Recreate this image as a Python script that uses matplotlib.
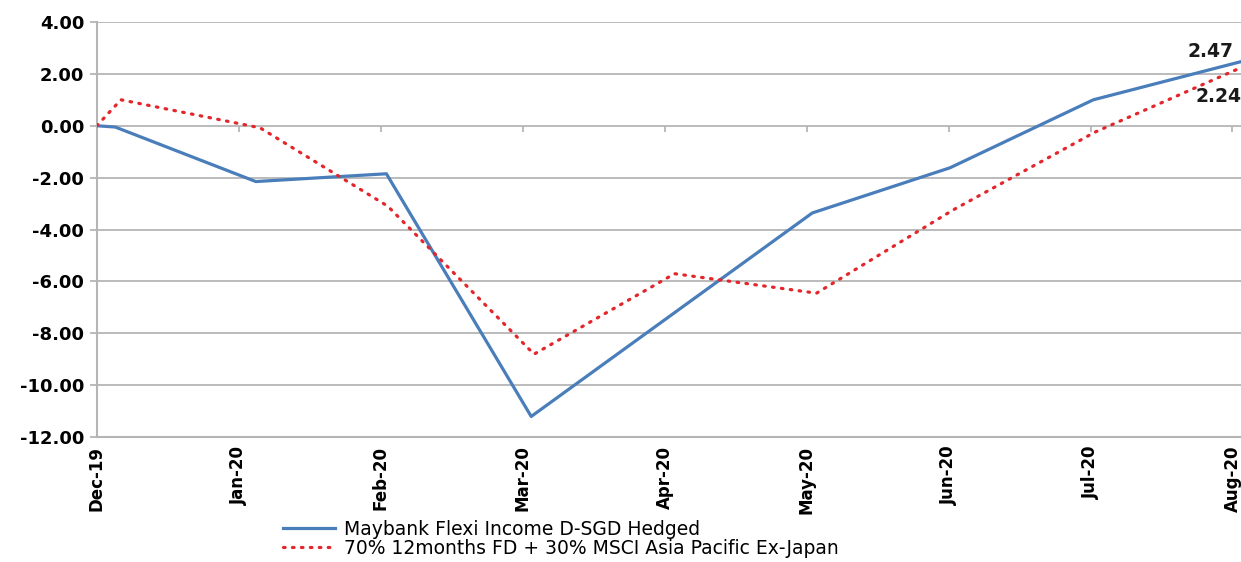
""" Fund vs benchmark cumulative return since Dec-19. """
import matplotlib
matplotlib.use("Agg")
import matplotlib.pyplot as plt

months = ["Dec-19", "Jan-20", "Feb-20", "Mar-20", "Apr-20",
          "May-20", "Jun-20", "Jul-20", "Aug-20"]

# x in months since Dec-19 (points sit slightly off the month ticks)
fund_x = [0.0, 0.13, 1.12, 2.04, 3.06, 5.04, 6.01, 7.02, 8.06]
fund_y = [0.00, -0.05, -2.15, -1.85, -11.20, -3.36, -1.62, 1.00, 2.47]

bench_x = [0.0, 0.17, 1.15, 2.05, 3.08, 4.07, 5.07, 6.03, 7.03, 8.06]
bench_y = [0.00, 1.00, -0.08, -3.10, -8.80, -5.70, -6.45, -3.25, -0.25, 2.24]

fund_name = "Maybank Flexi Income D-SGD Hedged"
bench_name = "70% 12months FD + 30% MSCI Asia Pacific Ex-Japan"

GRID = "#b5b5b5"

fig = plt.figure(figsize=(12.41, 5.62), dpi=100)
ax = fig.add_axes([0.078, 0.222, 0.922, 0.739])

ax.plot(fund_x, fund_y, color="#4a7ebb", lw=2.3, label=fund_name, zorder=3)
ax.plot(bench_x, bench_y, color="#e3262b", lw=2.3, ls=(0, (0.5, 2.3)),
        dash_capstyle="round", label=bench_name, zorder=4)

ax.annotate(f"{fund_y[-1]:.2f}", (fund_x[-1], fund_y[-1]), xytext=(-22, 7),
            textcoords="offset points", ha="center", va="center",
            fontsize=13.5, fontweight="bold", color="#1a1a1a",
            annotation_clip=False)
ax.annotate(f"{bench_y[-1]:.2f}", (bench_x[-1], bench_y[-1]), xytext=(-33, -21),
            textcoords="offset points", ha="left", va="center",
            fontsize=13.5, fontweight="bold", color="#1a1a1a",
            annotation_clip=False)

ax.set_xlim(0, 8.06)
ax.set_ylim(-12, 4)
ax.set_yticks(range(-12, 5, 2))
ax.set_yticklabels([f"{v:.2f}" for v in range(-12, 5, 2)],
                   fontsize=13, fontweight="bold")
ax.set_xticks(range(len(months)))
ax.set_xticklabels(months, rotation=90, fontsize=12, fontweight="bold")
ax.tick_params(axis="y", length=5, color=GRID, width=1.3, pad=4)
ax.tick_params(axis="x", length=0, pad=6)

ax.grid(axis="y", color=GRID, lw=1.3)
ax.set_axisbelow(True)
# small tick marks on the zero line, like the Excel axis crossing
ax.vlines(range(1, len(months)), -0.25, 0, color=GRID, lw=1.3, zorder=1)

for side in ["top", "right"]:
    ax.spines[side].set_visible(False)
for side in ["left", "bottom"]:
    ax.spines[side].set_color(GRID)
    ax.spines[side].set_linewidth(1.5)

fig.legend(loc="upper left", bbox_to_anchor=(0.228, 0.075), ncol=1,
           frameon=False, fontsize=13.5, handlelength=2.8, handletextpad=0.45,
           labelspacing=0.0, borderpad=0, borderaxespad=0)

fig.savefig("out.png", dpi=100)
